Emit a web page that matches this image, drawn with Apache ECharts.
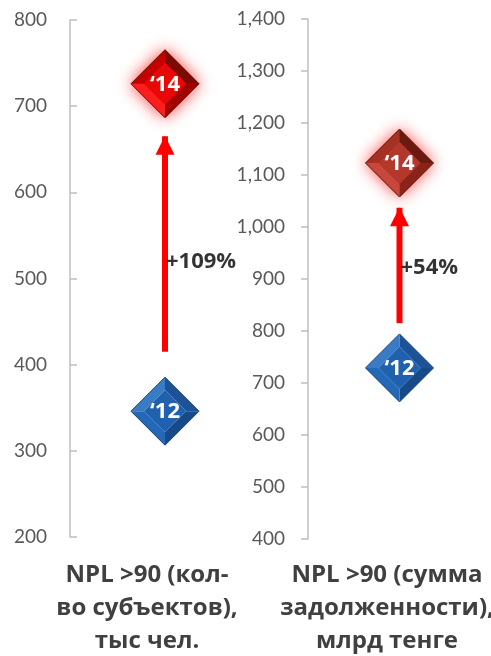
<!DOCTYPE html>
<html>
<head>
<meta charset="utf-8">
<script src="https://cdn.jsdelivr.net/npm/echarts@6/dist/echarts.min.js"></script>
<style>
  html, body { margin: 0; padding: 0; background: #fff; }
  #chart { width: 491px; height: 656px; }
</style>
</head>
<body>
<div id="chart"></div>
<script>
// years shown inside the diamonds
const years = ['\u201812', '\u201814'];
// NPL >90, number of borrowers, thousand people
const countValues = [346, 726];
// NPL >90, amount of debt, bn tenge
const debtValues = [729, 1123];
// arrows: start and tip values
const countArrow = [415, 665];
const debtArrow = [815, 1037];
const growthLabels = ['+109%', '+54%'];
const growthAt = [520, 921];
const categories = [
  'NPL >90 (кол-\nво субъектов),\nтыс чел.',
  'NPL >90 (сумма\nзадолженности),\nмлрд тенге'
];

const numFont = 'Lato';
const textFont = 'Open Sans';

// palettes per diamond: [face, upper-left, upper-right, lower-right, lower-left, edge, glow]
const blue = ['#1f61ae', '#3a7bc6', '#1b5396', '#174a88', '#2469b8', '#123f75', null];
const redBright = ['#e80808', '#c40000', '#7d0a00', '#a30000', '#ff1e1e', '#5a1408', 'rgba(255,40,40,0.95)'];
const redDark = ['#b3372a', '#a53024', '#6b1a10', '#8a2418', '#c8463a', '#5a1a10', 'rgba(255,60,60,0.95)'];

function diamonds(palettes) {
  return function (params, api) {
    const c = api.coord([api.value(0), api.value(1)]);
    const p = palettes[params.dataIndex];
    const r = 34, k = 0.62;
    const T = [c[0], c[1] - r], R = [c[0] + r, c[1]], B = [c[0], c[1] + r], L = [c[0] - r, c[1]];
    const t = [c[0], c[1] - r * k], rr = [c[0] + r * k, c[1]], b = [c[0], c[1] + r * k], l = [c[0] - r * k, c[1]];
    const poly = (pts, fill) => ({ type: 'polygon', shape: { points: pts }, style: { fill: fill } });
    const children = [];
    if (p[6]) {
      children.push({
        type: 'polygon',
        shape: { points: [T, R, B, L] },
        style: { fill: p[0], shadowBlur: 16, shadowColor: p[6] }
      });
    }
    children.push(
      poly([L, T, t, l], p[1]),
      poly([T, R, rr, t], p[2]),
      poly([R, B, b, rr], p[3]),
      poly([B, L, l, b], p[4]),
      poly([t, rr, b, l], p[0]),
      {
        type: 'polygon',
        shape: { points: [T, R, B, L] },
        style: { fill: 'none', stroke: p[5], lineWidth: 1 }
      },
      {
        type: 'text',
        style: {
          text: years[params.dataIndex],
          x: c[0], y: c[1] + 1,
          align: 'center', verticalAlign: 'middle',
          fill: '#fff',
          font: 'bold 22px "' + textFont + '"'
        }
      }
    );
    return { type: 'group', children: children };
  };
}

function arrowSeries(idx, vals) {
  return {
    type: 'line',
    xAxisIndex: idx, yAxisIndex: idx,
    silent: true,
    z: 1,
    lineStyle: { color: '#ff0000', width: 6 },
    itemStyle: { color: '#ff0000' },
    data: [
      { value: [1, vals[0]], symbol: 'none' },
      { value: [1, vals[1]], symbol: 'triangle', symbolSize: [19, 19], symbolOffset: [0, 9] }
    ]
  };
}

function labelSeries(idx, value, text) {
  return {
    type: 'scatter',
    xAxisIndex: idx, yAxisIndex: idx,
    silent: true,
    symbolSize: 0,
    data: [[1, value]],
    label: {
      show: true,
      position: 'right',
      distance: 1,
      formatter: text,
      color: '#000',
      fontFamily: textFont,
      fontWeight: 'bold',
      fontSize: 22
    }
  };
}

function yAxis(idx, min, max, inside) {
  return {
    type: 'value',
    gridIndex: idx,
    min: min, max: max, interval: 100,
    axisLine: { show: true, lineStyle: { color: '#bfbfbf', width: 1.5 } },
    axisTick: { show: true, inside: inside, length: 7, lineStyle: { color: '#bfbfbf', width: 1.5 } },
    splitLine: { show: false },
    axisLabel: {
      margin: 23,
      color: '#595959',
      fontFamily: numFont,
      fontSize: 19,
      formatter: v => v.toLocaleString('en-US')
    }
  };
}

const titleStyle = { fontFamily: textFont, fontWeight: 'bold', fontSize: 24, lineHeight: 33, color: '#404040' };

const chart = echarts.init(document.getElementById('chart'));

chart.setOption({
  backgroundColor: '#fff',
  animation: false,
  title: [
    { text: categories[0], left: 142, top: 554, textAlign: 'center', textStyle: titleStyle },
    { text: categories[1], left: 382, top: 554, textAlign: 'center', textStyle: titleStyle }
  ],
  grid: [
    { left: 70, top: 20, width: 190, height: 517 },
    { left: 308, top: 19, width: 186, height: 520 }
  ],
  xAxis: [
    { type: 'value', gridIndex: 0, min: 0, max: 2, show: false },
    { type: 'value', gridIndex: 1, min: 0, max: 2, show: false }
  ],
  yAxis: [
    yAxis(0, 200, 800, true),
    yAxis(1, 400, 1400, false)
  ],
  series: [
    arrowSeries(0, countArrow),
    arrowSeries(1, debtArrow),
    labelSeries(0, growthAt[0], growthLabels[0]),
    labelSeries(1, growthAt[1], growthLabels[1]),
    {
      type: 'custom', xAxisIndex: 0, yAxisIndex: 0, z: 3,
      renderItem: diamonds([blue, redBright]),
      data: countValues.map(v => [1, v])
    },
    {
      type: 'custom', xAxisIndex: 1, yAxisIndex: 1, z: 3,
      renderItem: diamonds([blue, redDark]),
      data: debtValues.map(v => [1, v])
    }
  ]
});
</script>
</body>
</html>
